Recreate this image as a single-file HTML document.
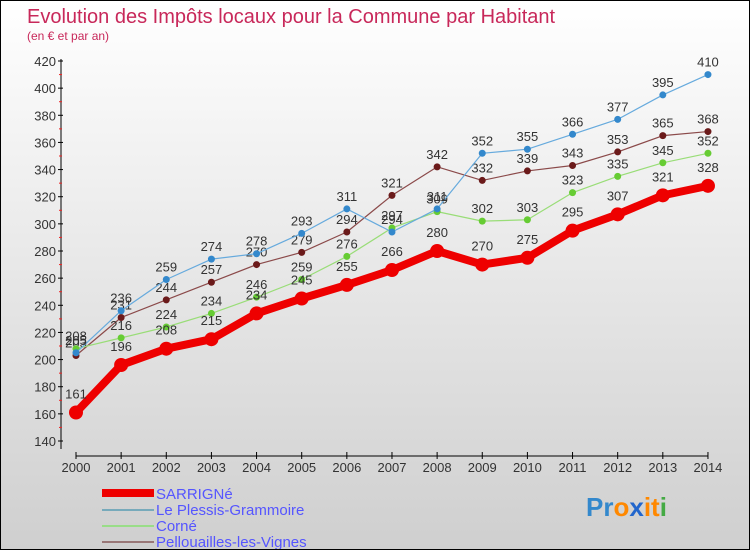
<!DOCTYPE html>
<html><head><meta charset="utf-8"><style>
body{margin:0;}
#c{width:750px;height:550px;position:relative;box-sizing:border-box;border:1px solid #000;background:linear-gradient(#fff,#cfcfcf);font-family:"Liberation Sans",sans-serif;overflow:hidden}
</style></head><body>
<div id="c">
<svg width="750" height="550" id="s">
<text x="26" y="22" font-size="20" fill="#c8285a">Evolution des Impôts locaux pour la Commune par Habitant</text>
<text x="26" y="39" font-size="12" fill="#c8285a">(en € et par an)</text>
<g id="ax"></g><g id="ser"></g>
<g>
<line x1="101" y1="492" x2="153" y2="492" stroke="#e00" stroke-width="8"/>
<text x="155" y="498" font-size="15" fill="#55f">SARRIGNé</text>
<line x1="101" y1="509" x2="153" y2="509" stroke="#7ab" stroke-width="2"/>
<text x="155" y="514" font-size="15" fill="#55f">Le Plessis-Grammoire</text>
<line x1="101" y1="525" x2="153" y2="525" stroke="#9d8" stroke-width="2"/>
<text x="155" y="530" font-size="15" fill="#55f">Corné</text>
<line x1="101" y1="541" x2="153" y2="541" stroke="#977" stroke-width="2"/>
<text x="155" y="546" font-size="15" fill="#55f">Pellouailles-les-Vignes</text>
</g>
<text x="585" y="515" font-size="26" font-weight="bold"><tspan fill="#38c">Pr</tspan><tspan fill="#f80">o</tspan><tspan fill="#26c">x</tspan><tspan fill="#f80">it</tspan><tspan fill="#4a4">i</tspan></text>
</svg></div>
<script>
const years=[2000,2001,2002,2003,2004,2005,2006,2007,2008,2009,2010,2011,2012,2013,2014];
const sarrigne=[161,196,208,215,234,245,255,266,280,270,275,295,307,321,328];
const plessis=[205,236,259,274,278,293,311,294,311,352,355,366,377,395,410];
const corne=[208,216,224,234,246,259,276,297,309,302,303,323,335,345,352];
const pellouailles=[203,231,244,257,270,279,294,321,342,332,339,343,353,365,368];
const yTicks=[140,160,180,200,220,240,260,280,300,320,340,360,380,400,420];
const NS="http://www.w3.org/2000/svg";
const X=i=>75+i*45.14, Y=v=>440-(v-140)*380/280;
function mk(t,a,p){const e=document.createElementNS(NS,t);for(const k in a)e.setAttribute(k,a[k]);p.appendChild(e);return e;}
const ax=document.getElementById('ax'),ser=document.getElementById('ser');
mk('line',{x1:60,y1:58,x2:60,y2:448,stroke:'#000'},ax);
mk('line',{x1:75,y1:455,x2:707,y2:455,stroke:'#000'},ax);
yTicks.forEach(v=>{
 mk('line',{x1:57,y1:Y(v),x2:62,y2:Y(v),stroke:'#000'},ax);
 if(v<420)mk('line',{x1:58,y1:Y(v+10),x2:61,y2:Y(v+10),stroke:'#e22'},ax);
 const t=mk('text',{x:55,y:Y(v)+5,'font-size':13,fill:'#333','text-anchor':'end'},ax);t.textContent=v;
 
 
});
years.forEach((y,i)=>{
 mk('line',{x1:X(i),y1:451,x2:X(i),y2:458,stroke:'#000'},ax);
 const t=mk('text',{x:X(i),y:471,'font-size':13,fill:'#333','text-anchor':'middle'},ax);t.textContent=y;
 
 
});
function series(d,col,dot,w,r,name){
 const g=mk('g',{},ser);
 
 
 mk('polyline',{points:d.map((v,i)=>X(i)+','+Y(v)).join(' '),fill:'none',stroke:col,'stroke-width':w,'stroke-linejoin':'round'},g);
 d.forEach((v,i)=>{
  const c=mk('circle',{cx:X(i),cy:Y(v),r:r,fill:dot},g);
  
  
  const t=mk('text',{x:X(i),y:Y(v)-8-(r>5?6:0),'font-size':13,fill:'#333','text-anchor':'middle'},g);t.textContent=v;
 });
}
series(pellouailles,'#8b4a4a','#6b1a1a',1.2,3.5,'series-pellouailles');
series(corne,'#99dd77','#66cc33',1.2,3.5,'series-corne');
series(plessis,'#66aadd','#3388cc',1.2,3.5,'series-plessis');
series(sarrigne,'#ee0000','#ee0000',8,7,'series-sarrigne');
</script>
</body></html>
